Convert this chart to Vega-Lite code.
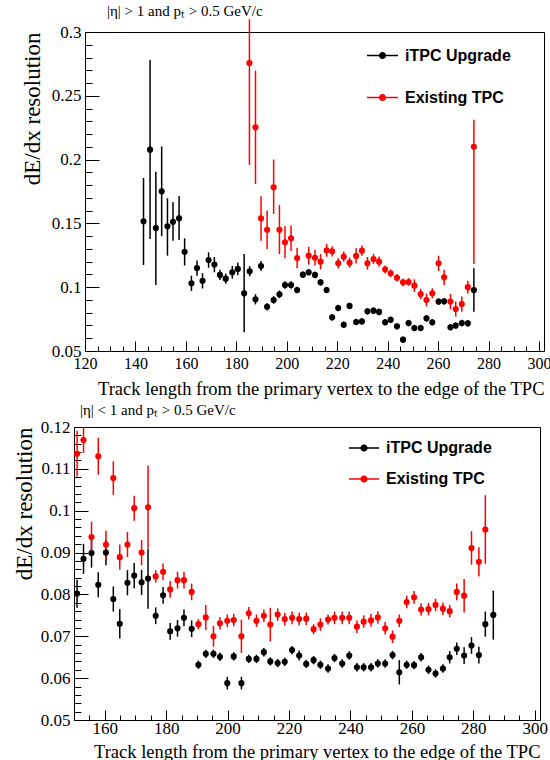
{
  "$schema": "https://vega.github.io/schema/vega-lite/v6.json",
  "background": "white",
  "padding": {"left": 12, "top": 4, "right": 0, "bottom": 0},
  "spacing": 4,
  "config": {
    "view": {"stroke": "black", "strokeWidth": 1},
    "font": "Liberation Serif",
    "axis": {"domainColor": "black", "tickColor": "black", "tickWidth": 1, "labelColor": "black", "titleColor": "black", "labelFont": "Liberation Serif", "labelFontSize": 17, "titleFont": "Liberation Serif", "titleFontWeight": "normal", "grid": false, "labelFlush": false, "labelOverlap": false, "labelBound": false},
    "title": {"font": "Liberation Serif", "fontSize": 15, "fontWeight": "normal", "anchor": "start", "color": "black", "frame": "group"}
  },
  "resolve": {"legend": {"color": "independent"}},
  "datasets": {
    "top": [
      {"s":"iTPC Upgrade","x":143.2,"y":0.1516,"lo":0.1174,"hi":0.1856},
      {"s":"iTPC Upgrade","x":145.8,"y":0.2078,"lo":0.1378,"hi":0.278},
      {"s":"iTPC Upgrade","x":148.1,"y":0.1464,"lo":0.1017,"hi":0.1905},
      {"s":"iTPC Upgrade","x":150.4,"y":0.1751,"lo":0.140,"hi":0.2104},
      {"s":"iTPC Upgrade","x":152.7,"y":0.1477,"lo":0.1247,"hi":0.1697},
      {"s":"iTPC Upgrade","x":154.9,"y":0.1513,"lo":0.1364,"hi":0.1668},
      {"s":"iTPC Upgrade","x":157.3,"y":0.154,"lo":0.137,"hi":0.1715},
      {"s":"iTPC Upgrade","x":159.5,"y":0.1278,"lo":0.117,"hi":0.1383},
      {"s":"iTPC Upgrade","x":162.2,"y":0.103,"lo":0.097,"hi":0.109},
      {"s":"iTPC Upgrade","x":164.4,"y":0.115,"lo":0.109,"hi":0.121},
      {"s":"iTPC Upgrade","x":166.6,"y":0.105,"lo":0.099,"hi":0.111},
      {"s":"iTPC Upgrade","x":169.0,"y":0.1213,"lo":0.1153,"hi":0.1273},
      {"s":"iTPC Upgrade","x":171.3,"y":0.1177,"lo":0.1117,"hi":0.1237},
      {"s":"iTPC Upgrade","x":173.5,"y":0.1096,"lo":0.1056,"hi":0.1136},
      {"s":"iTPC Upgrade","x":175.8,"y":0.1067,"lo":0.1027,"hi":0.1107},
      {"s":"iTPC Upgrade","x":178.4,"y":0.1117,"lo":0.1067,"hi":0.1167},
      {"s":"iTPC Upgrade","x":180.6,"y":0.1143,"lo":0.1093,"hi":0.1193},
      {"s":"iTPC Upgrade","x":183.1,"y":0.0952,"lo":0.0647,"hi":0.126},
      {"s":"iTPC Upgrade","x":185.3,"y":0.1125,"lo":0.1085,"hi":0.1165},
      {"s":"iTPC Upgrade","x":187.6,"y":0.0905,"lo":0.0865,"hi":0.0945},
      {"s":"iTPC Upgrade","x":189.8,"y":0.1166,"lo":0.1126,"hi":0.1206},
      {"s":"iTPC Upgrade","x":192.2,"y":0.0847,"lo":0.0817,"hi":0.0877},
      {"s":"iTPC Upgrade","x":194.8,"y":0.09,"lo":0.087,"hi":0.093},
      {"s":"iTPC Upgrade","x":197.1,"y":0.0944,"lo":0.0914,"hi":0.0974},
      {"s":"iTPC Upgrade","x":199.3,"y":0.1017,"lo":0.0987,"hi":0.1047},
      {"s":"iTPC Upgrade","x":201.7,"y":0.1017,"lo":0.0987,"hi":0.1047},
      {"s":"iTPC Upgrade","x":204.1,"y":0.0978,"lo":0.0953,"hi":0.1003},
      {"s":"iTPC Upgrade","x":206.4,"y":0.1098,"lo":0.1073,"hi":0.1123},
      {"s":"iTPC Upgrade","x":208.7,"y":0.1117,"lo":0.1092,"hi":0.1142},
      {"s":"iTPC Upgrade","x":211.2,"y":0.1096,"lo":0.1071,"hi":0.1121},
      {"s":"iTPC Upgrade","x":213.4,"y":0.1038,"lo":0.1013,"hi":0.1063},
      {"s":"iTPC Upgrade","x":215.8,"y":0.0978,"lo":0.0953,"hi":0.1003},
      {"s":"iTPC Upgrade","x":218.0,"y":0.0764,"lo":0.0739,"hi":0.0789},
      {"s":"iTPC Upgrade","x":220.4,"y":0.0837,"lo":0.0812,"hi":0.0862},
      {"s":"iTPC Upgrade","x":222.6,"y":0.0706,"lo":0.0681,"hi":0.0731},
      {"s":"iTPC Upgrade","x":224.9,"y":0.0853,"lo":0.0828,"hi":0.0878},
      {"s":"iTPC Upgrade","x":227.5,"y":0.0727,"lo":0.0702,"hi":0.0752},
      {"s":"iTPC Upgrade","x":229.8,"y":0.0732,"lo":0.0707,"hi":0.0757},
      {"s":"iTPC Upgrade","x":232.0,"y":0.0811,"lo":0.0786,"hi":0.0836},
      {"s":"iTPC Upgrade","x":234.4,"y":0.0816,"lo":0.0791,"hi":0.0841},
      {"s":"iTPC Upgrade","x":236.6,"y":0.0806,"lo":0.0781,"hi":0.0831},
      {"s":"iTPC Upgrade","x":239.0,"y":0.0725,"lo":0.0700,"hi":0.0750},
      {"s":"iTPC Upgrade","x":241.2,"y":0.0745,"lo":0.0720,"hi":0.0770},
      {"s":"iTPC Upgrade","x":243.7,"y":0.0693,"lo":0.0668,"hi":0.0718},
      {"s":"iTPC Upgrade","x":246.1,"y":0.0589,"lo":0.0564,"hi":0.0614},
      {"s":"iTPC Upgrade","x":248.3,"y":0.0719,"lo":0.0694,"hi":0.0744},
      {"s":"iTPC Upgrade","x":250.6,"y":0.068,"lo":0.0655,"hi":0.0705},
      {"s":"iTPC Upgrade","x":253.1,"y":0.068,"lo":0.0655,"hi":0.0705},
      {"s":"iTPC Upgrade","x":255.4,"y":0.0756,"lo":0.0731,"hi":0.0781},
      {"s":"iTPC Upgrade","x":257.7,"y":0.0725,"lo":0.0700,"hi":0.0750},
      {"s":"iTPC Upgrade","x":260.2,"y":0.0887,"lo":0.0862,"hi":0.0912},
      {"s":"iTPC Upgrade","x":262.4,"y":0.0889,"lo":0.0864,"hi":0.0914},
      {"s":"iTPC Upgrade","x":264.9,"y":0.0686,"lo":0.0661,"hi":0.0711},
      {"s":"iTPC Upgrade","x":267.0,"y":0.0699,"lo":0.0674,"hi":0.0724},
      {"s":"iTPC Upgrade","x":269.4,"y":0.0719,"lo":0.0694,"hi":0.0744},
      {"s":"iTPC Upgrade","x":271.8,"y":0.0717,"lo":0.0692,"hi":0.0742},
      {"s":"iTPC Upgrade","x":274.2,"y":0.0978,"lo":0.0808,"hi":0.1148},
      {"s":"Existing TPC","x":185.2,"y":0.2757,"lo":0.1958,"hi":0.31},
      {"s":"Existing TPC","x":187.6,"y":0.2253,"lo":0.1809,"hi":0.2697},
      {"s":"Existing TPC","x":189.8,"y":0.154,"lo":0.1364,"hi":0.1712},
      {"s":"Existing TPC","x":192.2,"y":0.145,"lo":0.130,"hi":0.160},
      {"s":"Existing TPC","x":194.8,"y":0.1783,"lo":0.1574,"hi":0.2},
      {"s":"Existing TPC","x":197.1,"y":0.145,"lo":0.126,"hi":0.1644},
      {"s":"Existing TPC","x":199.3,"y":0.1352,"lo":0.1227,"hi":0.148},
      {"s":"Existing TPC","x":201.7,"y":0.1383,"lo":0.1283,"hi":0.1483},
      {"s":"Existing TPC","x":204.1,"y":0.1229,"lo":0.1149,"hi":0.1309},
      {"s":"Existing TPC","x":208.7,"y":0.1247,"lo":0.1177,"hi":0.1317},
      {"s":"Existing TPC","x":211.2,"y":0.1231,"lo":0.1171,"hi":0.1291},
      {"s":"Existing TPC","x":213.4,"y":0.12,"lo":0.114,"hi":0.126},
      {"s":"Existing TPC","x":215.8,"y":0.1289,"lo":0.1239,"hi":0.1339},
      {"s":"Existing TPC","x":218.0,"y":0.1281,"lo":0.1241,"hi":0.1321},
      {"s":"Existing TPC","x":220.4,"y":0.1187,"lo":0.1147,"hi":0.1227},
      {"s":"Existing TPC","x":222.6,"y":0.1239,"lo":0.1199,"hi":0.1279},
      {"s":"Existing TPC","x":224.9,"y":0.1192,"lo":0.1152,"hi":0.1232},
      {"s":"Existing TPC","x":227.5,"y":0.1245,"lo":0.1185,"hi":0.1305},
      {"s":"Existing TPC","x":229.8,"y":0.1286,"lo":0.1246,"hi":0.1326},
      {"s":"Existing TPC","x":232.0,"y":0.1187,"lo":0.1137,"hi":0.1237},
      {"s":"Existing TPC","x":234.4,"y":0.1221,"lo":0.1181,"hi":0.1261},
      {"s":"Existing TPC","x":236.6,"y":0.12,"lo":0.116,"hi":0.124},
      {"s":"Existing TPC","x":239.0,"y":0.114,"lo":0.111,"hi":0.117},
      {"s":"Existing TPC","x":241.2,"y":0.1109,"lo":0.1079,"hi":0.1139},
      {"s":"Existing TPC","x":243.7,"y":0.1074,"lo":0.1044,"hi":0.1104},
      {"s":"Existing TPC","x":246.1,"y":0.1038,"lo":0.1008,"hi":0.1068},
      {"s":"Existing TPC","x":248.3,"y":0.1041,"lo":0.1011,"hi":0.1071},
      {"s":"Existing TPC","x":250.6,"y":0.1012,"lo":0.0962,"hi":0.1062},
      {"s":"Existing TPC","x":253.1,"y":0.0947,"lo":0.0907,"hi":0.0987},
      {"s":"Existing TPC","x":255.4,"y":0.09,"lo":0.085,"hi":0.095},
      {"s":"Existing TPC","x":257.7,"y":0.0952,"lo":0.0912,"hi":0.0992},
      {"s":"Existing TPC","x":260.2,"y":0.1187,"lo":0.1127,"hi":0.1247},
      {"s":"Existing TPC","x":262.4,"y":0.1077,"lo":0.1017,"hi":0.1137},
      {"s":"Existing TPC","x":264.9,"y":0.0887,"lo":0.0827,"hi":0.0947},
      {"s":"Existing TPC","x":267.0,"y":0.0829,"lo":0.0769,"hi":0.0889},
      {"s":"Existing TPC","x":269.4,"y":0.0868,"lo":0.0808,"hi":0.0928},
      {"s":"Existing TPC","x":271.8,"y":0.1,"lo":0.095,"hi":0.105},
      {"s":"Existing TPC","x":274.2,"y":0.2101,"lo":0.1182,"hi":0.2313}
    ],
    "bottom": [
      {"s":"iTPC Upgrade","x":151.0,"y":0.0802,"lo":0.0768,"hi":0.0835},
      {"s":"iTPC Upgrade","x":153.1,"y":0.0885,"lo":0.0849,"hi":0.0921},
      {"s":"iTPC Upgrade","x":155.7,"y":0.0899,"lo":0.0864,"hi":0.0934},
      {"s":"iTPC Upgrade","x":157.9,"y":0.0823,"lo":0.0793,"hi":0.0853},
      {"s":"iTPC Upgrade","x":160.4,"y":0.09,"lo":0.087,"hi":0.093},
      {"s":"iTPC Upgrade","x":162.8,"y":0.0789,"lo":0.0759,"hi":0.0819},
      {"s":"iTPC Upgrade","x":164.9,"y":0.073,"lo":0.0695,"hi":0.0765},
      {"s":"iTPC Upgrade","x":167.4,"y":0.0828,"lo":0.0798,"hi":0.0858},
      {"s":"iTPC Upgrade","x":169.6,"y":0.0845,"lo":0.0815,"hi":0.0875},
      {"s":"iTPC Upgrade","x":172.0,"y":0.0829,"lo":0.0799,"hi":0.0859},
      {"s":"iTPC Upgrade","x":174.1,"y":0.0838,"lo":0.0766,"hi":0.091},
      {"s":"iTPC Upgrade","x":176.6,"y":0.0749,"lo":0.0729,"hi":0.0769},
      {"s":"iTPC Upgrade","x":179.0,"y":0.0798,"lo":0.0778,"hi":0.0818},
      {"s":"iTPC Upgrade","x":181.3,"y":0.0712,"lo":0.0692,"hi":0.0732},
      {"s":"iTPC Upgrade","x":183.7,"y":0.0719,"lo":0.0699,"hi":0.0739},
      {"s":"iTPC Upgrade","x":185.8,"y":0.0744,"lo":0.0724,"hi":0.0764},
      {"s":"iTPC Upgrade","x":188.3,"y":0.0718,"lo":0.0698,"hi":0.0738},
      {"s":"iTPC Upgrade","x":190.5,"y":0.0632,"lo":0.0622,"hi":0.0642},
      {"s":"iTPC Upgrade","x":192.9,"y":0.0658,"lo":0.0648,"hi":0.0668},
      {"s":"iTPC Upgrade","x":195.4,"y":0.0658,"lo":0.0648,"hi":0.0668},
      {"s":"iTPC Upgrade","x":197.5,"y":0.0651,"lo":0.0641,"hi":0.0661},
      {"s":"iTPC Upgrade","x":199.9,"y":0.0588,"lo":0.0573,"hi":0.0603},
      {"s":"iTPC Upgrade","x":202.0,"y":0.0652,"lo":0.0642,"hi":0.0662},
      {"s":"iTPC Upgrade","x":204.5,"y":0.0588,"lo":0.0573,"hi":0.0603},
      {"s":"iTPC Upgrade","x":206.9,"y":0.0646,"lo":0.0636,"hi":0.0656},
      {"s":"iTPC Upgrade","x":209.4,"y":0.0646,"lo":0.0636,"hi":0.0656},
      {"s":"iTPC Upgrade","x":211.8,"y":0.0662,"lo":0.0652,"hi":0.0672},
      {"s":"iTPC Upgrade","x":213.9,"y":0.064,"lo":0.063,"hi":0.065},
      {"s":"iTPC Upgrade","x":216.3,"y":0.0636,"lo":0.0626,"hi":0.0646},
      {"s":"iTPC Upgrade","x":218.6,"y":0.0639,"lo":0.0629,"hi":0.0649},
      {"s":"iTPC Upgrade","x":221.0,"y":0.0667,"lo":0.0657,"hi":0.0677},
      {"s":"iTPC Upgrade","x":223.3,"y":0.0654,"lo":0.0642,"hi":0.0666},
      {"s":"iTPC Upgrade","x":225.6,"y":0.0634,"lo":0.0624,"hi":0.0644},
      {"s":"iTPC Upgrade","x":228.0,"y":0.0643,"lo":0.0633,"hi":0.0653},
      {"s":"iTPC Upgrade","x":230.2,"y":0.0632,"lo":0.0622,"hi":0.0642},
      {"s":"iTPC Upgrade","x":232.7,"y":0.0623,"lo":0.0613,"hi":0.0633},
      {"s":"iTPC Upgrade","x":234.8,"y":0.0648,"lo":0.0638,"hi":0.0658},
      {"s":"iTPC Upgrade","x":237.3,"y":0.0635,"lo":0.0625,"hi":0.0645},
      {"s":"iTPC Upgrade","x":239.6,"y":0.0654,"lo":0.0644,"hi":0.0664},
      {"s":"iTPC Upgrade","x":242.1,"y":0.0626,"lo":0.0616,"hi":0.0636},
      {"s":"iTPC Upgrade","x":244.3,"y":0.0626,"lo":0.0616,"hi":0.0636},
      {"s":"iTPC Upgrade","x":246.7,"y":0.0626,"lo":0.0616,"hi":0.0636},
      {"s":"iTPC Upgrade","x":248.9,"y":0.0635,"lo":0.0625,"hi":0.0645},
      {"s":"iTPC Upgrade","x":251.3,"y":0.0635,"lo":0.0625,"hi":0.0645},
      {"s":"iTPC Upgrade","x":253.7,"y":0.0655,"lo":0.0645,"hi":0.0665},
      {"s":"iTPC Upgrade","x":255.9,"y":0.0614,"lo":0.0585,"hi":0.0643},
      {"s":"iTPC Upgrade","x":258.3,"y":0.0632,"lo":0.0622,"hi":0.0642},
      {"s":"iTPC Upgrade","x":260.7,"y":0.0631,"lo":0.0621,"hi":0.0641},
      {"s":"iTPC Upgrade","x":263.0,"y":0.065,"lo":0.064,"hi":0.066},
      {"s":"iTPC Upgrade","x":265.4,"y":0.062,"lo":0.061,"hi":0.063},
      {"s":"iTPC Upgrade","x":267.7,"y":0.0611,"lo":0.0601,"hi":0.0621},
      {"s":"iTPC Upgrade","x":270.1,"y":0.0623,"lo":0.0613,"hi":0.0633},
      {"s":"iTPC Upgrade","x":272.3,"y":0.065,"lo":0.0635,"hi":0.0665},
      {"s":"iTPC Upgrade","x":274.6,"y":0.067,"lo":0.0655,"hi":0.0685},
      {"s":"iTPC Upgrade","x":277.0,"y":0.0654,"lo":0.0634,"hi":0.0674},
      {"s":"iTPC Upgrade","x":279.4,"y":0.0678,"lo":0.0658,"hi":0.0698},
      {"s":"iTPC Upgrade","x":281.8,"y":0.0655,"lo":0.0635,"hi":0.0675},
      {"s":"iTPC Upgrade","x":283.9,"y":0.0729,"lo":0.0699,"hi":0.0759},
      {"s":"iTPC Upgrade","x":286.5,"y":0.0751,"lo":0.0692,"hi":0.0809},
      {"s":"Existing TPC","x":151.0,"y":0.1136,"lo":0.1082,"hi":0.1191},
      {"s":"Existing TPC","x":153.1,"y":0.1169,"lo":0.1138,"hi":0.12},
      {"s":"Existing TPC","x":155.7,"y":0.0937,"lo":0.0903,"hi":0.0974},
      {"s":"Existing TPC","x":157.9,"y":0.113,"lo":0.1086,"hi":0.1174},
      {"s":"Existing TPC","x":160.4,"y":0.0919,"lo":0.0883,"hi":0.0952},
      {"s":"Existing TPC","x":162.8,"y":0.1078,"lo":0.1038,"hi":0.1118},
      {"s":"Existing TPC","x":164.9,"y":0.0889,"lo":0.0859,"hi":0.0919},
      {"s":"Existing TPC","x":167.4,"y":0.0919,"lo":0.0889,"hi":0.0949},
      {"s":"Existing TPC","x":169.6,"y":0.1006,"lo":0.0976,"hi":0.1036},
      {"s":"Existing TPC","x":172.0,"y":0.09,"lo":0.087,"hi":0.093},
      {"s":"Existing TPC","x":174.1,"y":0.1008,"lo":0.0911,"hi":0.1108},
      {"s":"Existing TPC","x":176.6,"y":0.0843,"lo":0.0828,"hi":0.0858},
      {"s":"Existing TPC","x":179.0,"y":0.0854,"lo":0.0834,"hi":0.0874},
      {"s":"Existing TPC","x":181.3,"y":0.0812,"lo":0.0792,"hi":0.0832},
      {"s":"Existing TPC","x":183.7,"y":0.0834,"lo":0.0814,"hi":0.0854},
      {"s":"Existing TPC","x":185.8,"y":0.0834,"lo":0.0814,"hi":0.0854},
      {"s":"Existing TPC","x":188.3,"y":0.0806,"lo":0.0786,"hi":0.0826},
      {"s":"Existing TPC","x":190.5,"y":0.0729,"lo":0.0717,"hi":0.0741},
      {"s":"Existing TPC","x":192.9,"y":0.0745,"lo":0.0715,"hi":0.0775},
      {"s":"Existing TPC","x":195.4,"y":0.07,"lo":0.0675,"hi":0.0725},
      {"s":"Existing TPC","x":197.5,"y":0.0731,"lo":0.0716,"hi":0.0746},
      {"s":"Existing TPC","x":199.9,"y":0.0737,"lo":0.0722,"hi":0.0752},
      {"s":"Existing TPC","x":202.0,"y":0.0739,"lo":0.0724,"hi":0.0754},
      {"s":"Existing TPC","x":204.5,"y":0.07,"lo":0.066,"hi":0.074},
      {"s":"Existing TPC","x":206.9,"y":0.0755,"lo":0.074,"hi":0.077},
      {"s":"Existing TPC","x":209.4,"y":0.0737,"lo":0.0722,"hi":0.0752},
      {"s":"Existing TPC","x":211.8,"y":0.0749,"lo":0.0734,"hi":0.0764},
      {"s":"Existing TPC","x":213.9,"y":0.0728,"lo":0.0688,"hi":0.0768},
      {"s":"Existing TPC","x":216.3,"y":0.0752,"lo":0.0737,"hi":0.0767},
      {"s":"Existing TPC","x":218.6,"y":0.0741,"lo":0.0726,"hi":0.0756},
      {"s":"Existing TPC","x":221.0,"y":0.0744,"lo":0.0729,"hi":0.0759},
      {"s":"Existing TPC","x":223.3,"y":0.0741,"lo":0.0726,"hi":0.0756},
      {"s":"Existing TPC","x":225.6,"y":0.0742,"lo":0.0727,"hi":0.0757},
      {"s":"Existing TPC","x":228.0,"y":0.0717,"lo":0.0705,"hi":0.0729},
      {"s":"Existing TPC","x":230.2,"y":0.0728,"lo":0.0713,"hi":0.0743},
      {"s":"Existing TPC","x":232.7,"y":0.074,"lo":0.0728,"hi":0.0752},
      {"s":"Existing TPC","x":234.8,"y":0.0744,"lo":0.0729,"hi":0.0759},
      {"s":"Existing TPC","x":237.3,"y":0.0744,"lo":0.0729,"hi":0.0759},
      {"s":"Existing TPC","x":239.6,"y":0.0744,"lo":0.0729,"hi":0.0759},
      {"s":"Existing TPC","x":242.1,"y":0.0723,"lo":0.0708,"hi":0.0738},
      {"s":"Existing TPC","x":244.3,"y":0.0735,"lo":0.072,"hi":0.075},
      {"s":"Existing TPC","x":246.7,"y":0.0738,"lo":0.0723,"hi":0.0753},
      {"s":"Existing TPC","x":248.9,"y":0.0745,"lo":0.073,"hi":0.076},
      {"s":"Existing TPC","x":251.3,"y":0.0719,"lo":0.0704,"hi":0.0734},
      {"s":"Existing TPC","x":253.7,"y":0.0699,"lo":0.0684,"hi":0.0714},
      {"s":"Existing TPC","x":255.9,"y":0.0737,"lo":0.0722,"hi":0.0752},
      {"s":"Existing TPC","x":258.3,"y":0.0782,"lo":0.0767,"hi":0.0797},
      {"s":"Existing TPC","x":260.7,"y":0.0793,"lo":0.0778,"hi":0.0808},
      {"s":"Existing TPC","x":263.0,"y":0.0764,"lo":0.0749,"hi":0.0779},
      {"s":"Existing TPC","x":265.4,"y":0.0765,"lo":0.075,"hi":0.078},
      {"s":"Existing TPC","x":267.7,"y":0.0775,"lo":0.076,"hi":0.079},
      {"s":"Existing TPC","x":270.1,"y":0.0766,"lo":0.0751,"hi":0.0781},
      {"s":"Existing TPC","x":272.3,"y":0.076,"lo":0.0745,"hi":0.0775},
      {"s":"Existing TPC","x":274.6,"y":0.0806,"lo":0.0786,"hi":0.0826},
      {"s":"Existing TPC","x":277.0,"y":0.0797,"lo":0.0757,"hi":0.0837},
      {"s":"Existing TPC","x":279.4,"y":0.0911,"lo":0.0871,"hi":0.0951},
      {"s":"Existing TPC","x":281.8,"y":0.0878,"lo":0.0843,"hi":0.0913},
      {"s":"Existing TPC","x":283.9,"y":0.0955,"lo":0.0873,"hi":0.1037}
    ]
  },
  "vconcat": [
    {
      "width": 470,
      "height": 319,
      "view": {"stroke": null},
      "title": {"text": "|η| > 1 and pₜ > 0.5 GeV/c", "dx": 33, "offset": -1},
      "data": {"name": "top"},
      "resolve": {"axis": {"x": "independent", "y": "independent"}},
      "encoding": {
        "x": {"field": "x", "type": "quantitative", "scale": {"domain": [120, 302], "range": [11, 470], "nice": false, "zero": false}},
        "y": {"field": "y", "type": "quantitative", "scale": {"domain": [0.05, 0.3], "nice": false, "zero": false}},
        "color": {"field": "s", "type": "nominal", "scale": {"domain": ["iTPC Upgrade", "Existing TPC"], "range": ["#000000", "#ff0000"]},
          "legend": {"title": null, "orient": "none", "legendX": 293, "legendY": 8, "padding": 0,
            "symbolType": "M-1,-0.05H1V0.05H-1Z M-0.23,0A0.23,0.23,0,1,1,0.23,0A0.23,0.23,0,1,1,-0.23,0Z",
            "symbolSize": 961, "symbolStrokeWidth": 0, "labelFont": "Liberation Sans", "labelFontWeight": "bold", "labelFontSize": 16, "labelColor": "black", "labelOffset": 7, "rowPadding": 18}}
      },
      "layer": [
        {"mark": {"type": "rule", "strokeWidth": 1.5},
         "encoding": {
          "x": {"field": "x", "type": "quantitative",
            "axis": {"orient": "bottom", "title": "Track length from the primary vertex to the edge of the TPC", "titleFontSize": 18.5, "titleAnchor": "end", "titlePadding": 3, "labelFontSize": 16,
              "values": [120,125,130,135,140,145,150,155,160,165,170,175,180,185,190,195,200,205,210,215,220,225,230,235,240,245,250,255,260,265,270,275,280,285,290,295,300],
              "labelExpr": "datum.value % 20 == 0 ? '' + datum.value : ''",
              "tickSize": {"condition": {"test": "datum.value % 20 == 0", "value": -10}, "value": -5},
              "labelPadding": 14}},
          "y": {"field": "lo", "type": "quantitative",
            "axis": {"orient": "left", "offset": -11, "title": "dE/dx resolution", "titleFontSize": 23, "titleAnchor": "end", "titlePadding": 7,
              "values": [0.05,0.06,0.07,0.08,0.09,0.1,0.11,0.12,0.13,0.14,0.15,0.16,0.17,0.18,0.19,0.2,0.21,0.22,0.23,0.24,0.25,0.26,0.27,0.28,0.29,0.3],
              "labelExpr": "round(datum.value*100) % 5 == 0 ? format(datum.value, '~g') : ''",
              "tickSize": {"condition": {"test": "round(datum.value*100) % 5 == 0", "value": -14}, "value": -7},
              "labelPadding": 18}},
          "y2": {"field": "hi"}}},
        {"mark": {"type": "point", "shape": "circle", "filled": true, "size": 38, "opacity": 1},
         "encoding": {
          "x": {"field": "x", "type": "quantitative", "axis": {"orient": "top", "title": null, "labels": false, "ticks": false, "domain": true}},
          "y": {"field": "y", "type": "quantitative", "axis": {"orient": "right", "title": null, "labels": false, "ticks": false, "domain": true}}}}
      ]
    },
    {
      "width": 466,
      "height": 293,
      "title": {"text": "|η| < 1 and pₜ > 0.5 GeV/c", "dx": 6, "offset": 0},
      "data": {"name": "bottom"},
      "encoding": {
        "x": {"field": "x", "type": "quantitative", "scale": {"domain": [150, 301.7], "nice": false, "zero": false},
          "axis": {"title": "Track length from the primary vertex to the edge of the TPC", "titleFontSize": 18.5, "titleAnchor": "end", "titlePadding": 1,
            "values": [150,155,160,165,170,175,180,185,190,195,200,205,210,215,220,225,230,235,240,245,250,255,260,265,270,275,280,285,290,295,300],
            "labelExpr": "datum.value % 20 == 0 ? '' + datum.value : ''",
            "tickSize": {"condition": {"test": "datum.value % 20 == 0", "value": -10}, "value": -5},
            "labelPadding": 10}},
        "y": {"field": "y", "type": "quantitative", "scale": {"domain": [0.05, 0.12], "nice": false, "zero": false},
          "axis": {"title": "dE/dx resolution", "titleFontSize": 23, "titleAnchor": "end", "titlePadding": 4,
            "values": [0.05,0.052,0.054,0.056,0.058,0.06,0.062,0.064,0.066,0.068,0.07,0.072,0.074,0.076,0.078,0.08,0.082,0.084,0.086,0.088,0.09,0.092,0.094,0.096,0.098,0.1,0.102,0.104,0.106,0.108,0.11,0.112,0.114,0.116,0.118,0.12],
            "labelExpr": "round(datum.value*1000) % 10 == 0 ? format(datum.value, '~g') : ''",
            "tickSize": {"condition": {"test": "round(datum.value*1000) % 10 == 0", "value": -14}, "value": -7},
            "labelPadding": 18}},
        "color": {"field": "s", "type": "nominal", "scale": {"domain": ["iTPC Upgrade", "Existing TPC"], "range": ["#000000", "#ff0000"]},
          "legend": {"title": null, "orient": "none", "legendX": 275, "legendY": 6, "padding": 0,
            "symbolType": "M-1,-0.05H1V0.05H-1Z M-0.24,0A0.24,0.24,0,1,1,0.24,0A0.24,0.24,0,1,1,-0.24,0Z",
            "symbolSize": 900, "symbolStrokeWidth": 0, "labelFont": "Liberation Sans", "labelFontWeight": "bold", "labelFontSize": 16, "labelColor": "black", "labelOffset": 7, "rowPadding": 8}}
      },
      "layer": [
        {"mark": {"type": "rule", "strokeWidth": 1.5}, "encoding": {"y": {"field": "lo", "type": "quantitative"}, "y2": {"field": "hi"}}},
        {"mark": {"type": "point", "shape": "circle", "filled": true, "size": 38, "opacity": 1}}
      ]
    }
  ]
}
